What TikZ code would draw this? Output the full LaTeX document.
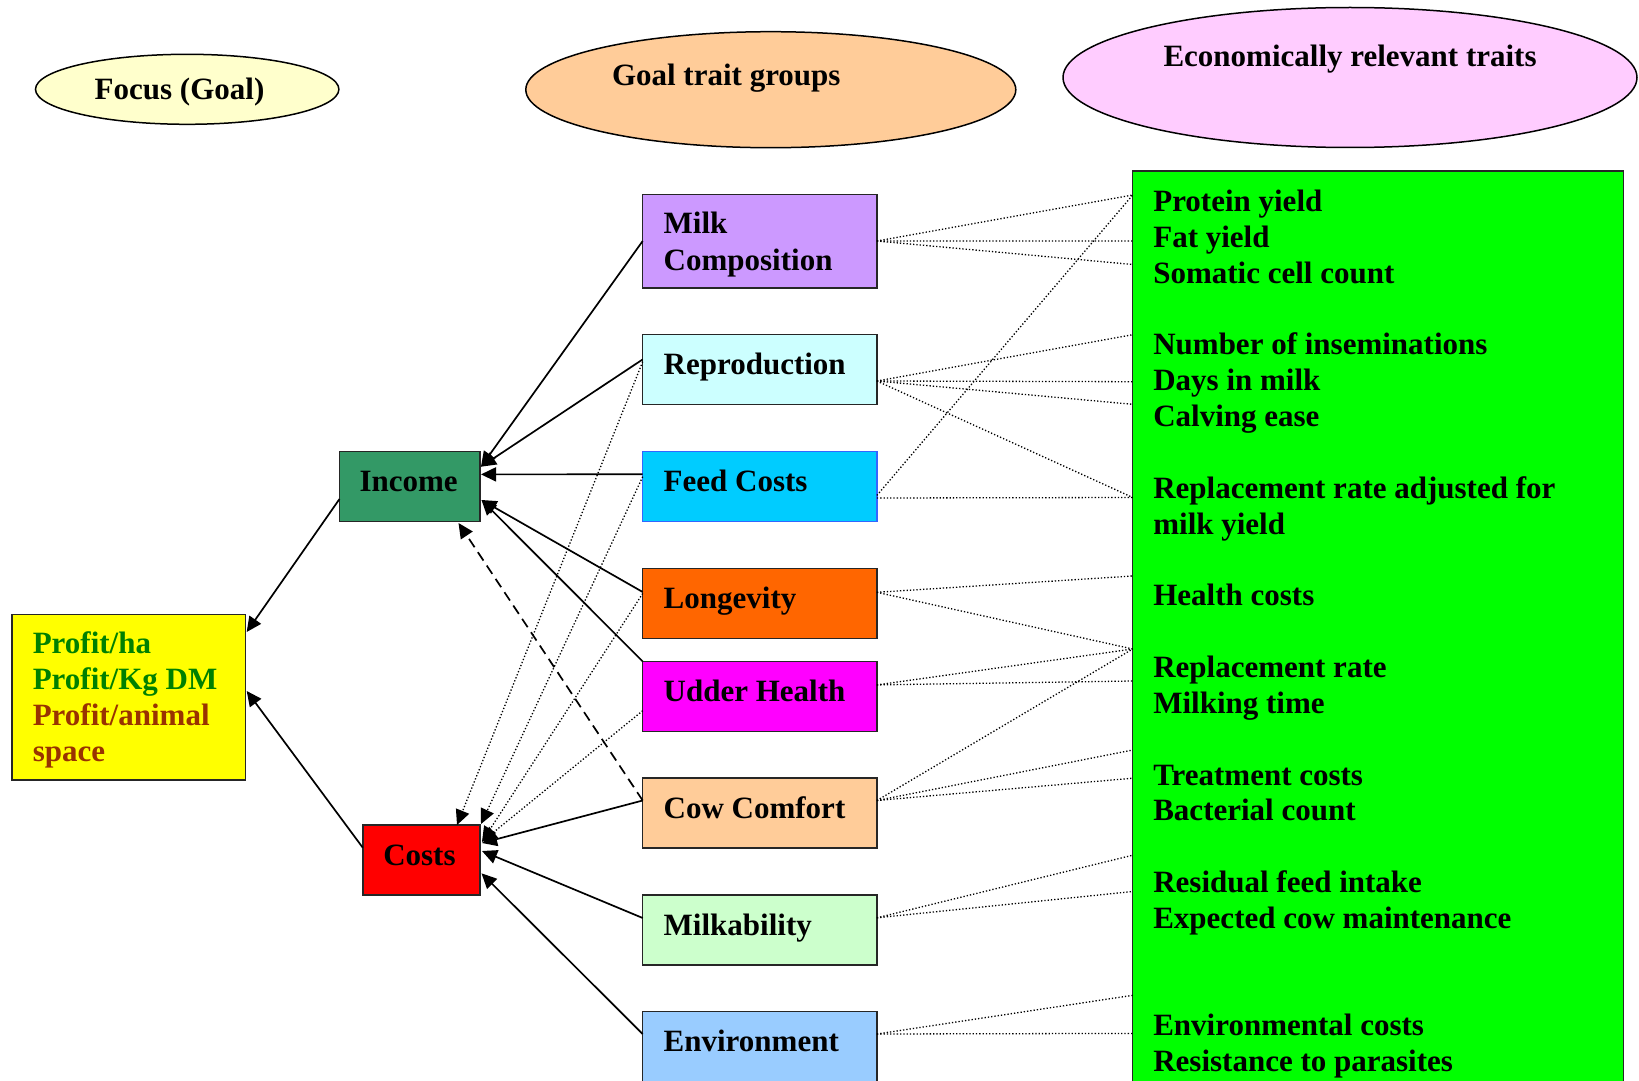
\documentclass[tikz,border=0pt]{standalone}
\usepackage{fontspec}
\setmainfont{Liberation Serif}
\usetikzlibrary{arrows.meta,calc,shapes.geometric}
\definecolor{cFocus}{HTML}{FFFFCC}
\definecolor{cGoal}{HTML}{FFCC99}
\definecolor{cEcon}{HTML}{FFCCFF}
\definecolor{cMilk}{HTML}{CC99FF}
\definecolor{cRepro}{HTML}{CCFFFF}
\definecolor{cFeed}{HTML}{00CCFF}
\definecolor{cFeedB}{HTML}{3366FF}
\definecolor{cLong}{HTML}{FF6600}
\definecolor{cUdder}{HTML}{FF00FF}
\definecolor{cCow}{HTML}{FFCC99}
\definecolor{cMilkab}{HTML}{CCFFCC}
\definecolor{cEnv}{HTML}{99CCFF}
\definecolor{cInc}{HTML}{339966}
\definecolor{cCost}{HTML}{FF0000}
\definecolor{cProf}{HTML}{FFFF00}
\definecolor{cGreen}{HTML}{00FF00}
\definecolor{tGreen}{HTML}{008000}
\definecolor{tBrown}{HTML}{993300}
\begin{document}
\begin{tikzpicture}[x=0.5pt,y=-0.5pt,
  every node/.style={inner sep=0pt,outer sep=0pt},
  box/.style={draw=black!85,line width=0.75pt,rectangle,anchor=north west},
  gbox/.style={box,minimum width=117.1pt,minimum height=35pt},
  oval/.style={draw=black,line width=0.75pt,ellipse},
  lbl/.style={anchor=base west,font=\fontsize{15.5}{17.9}\selectfont\bfseries},
  tip/.style={-{Triangle[length=7.5pt,width=7pt]}},
  solidarr/.style={line width=0.85pt,tip},
  dotline/.style={line width=0.65pt,dash pattern=on 0.65pt off 1pt},
  dotarr/.style={dotline,tip},
  dasharr/.style={line width=0.85pt,dash pattern=on 5pt off 3pt,tip}]
\useasboundingbox (0,0) rectangle (1639,1081);
\fill[white] (0,0) rectangle (1639,1081);
\clip (0,0) rectangle (1639,1081);

% header ellipses
\node[oval,fill=cFocus,minimum width=151.7pt,minimum height=35pt] (focus) at (187.2,89.3) {};
\node[oval,fill=cGoal,minimum width=245pt,minimum height=58pt] (goal) at (770.8,89.7) {};
\node[oval,fill=cEcon,minimum width=287pt,minimum height=70pt] (econ) at (1350,77.5) {};
\node[lbl] (focusT) at (94.7,100) {Focus (Goal)};
\node[lbl] (goalT) at (612,86) {Goal trait groups};
\node[lbl] (econT) at (1163.5,66.7) {Economically relevant traits};

% goal trait group boxes
\node[box,fill=cMilk,minimum width=117.1pt,minimum height=46.75pt] (mc) at (642.7,194.4) {};
\node[gbox,fill=cRepro] (rep) at (642.7,334.4) {};
\node[gbox,fill=cFeed,draw=cFeedB] (feed) at (642.7,451.4) {};
\node[gbox,fill=cLong] (lon) at (642.7,568.3) {};
\node[gbox,fill=cUdder] (udd) at (642.7,661.5) {};
\node[gbox,fill=cCow] (cow) at (642.7,778.2) {};
\node[gbox,fill=cMilkab] (milka) at (642.7,895) {};
\node[box,fill=cEnv,minimum width=117.1pt,minimum height=50pt] (env) at (642.7,1011.7) {};

\node[lbl] (mcT1) at ($(mc.north west)+(21,39.6)$) {Milk};
\node[lbl] (mcT2) at ($(mc.north west)+(21,75.8)$) {Composition};
\foreach \n/\t in {rep/Reproduction,feed/Feed Costs,lon/Longevity,udd/Udder Health,cow/Cow Comfort,milka/Milkability,env/Environment}
  \node[lbl] (\n T) at ($(\n.north west)+(21,40)$) {\t};

% focus boxes
\node[box,fill=cInc,minimum width=70.25pt,minimum height=35pt] (inc) at (339.5,451.5) {};
\node[box,fill=cCost,minimum width=58.6pt,minimum height=35pt] (cst) at (362.8,825) {};
\node[box,fill=cProf,minimum width=116.85pt,minimum height=82.75pt] (prof) at (12,614.7) {};
\node[lbl] (incT) at ($(inc.north west)+(20,40)$) {Income};
\node[lbl] (cstT) at ($(cst.north west)+(20.5,40)$) {Costs};
\node[lbl,text=tGreen] (pf1) at ($(prof.north west)+(20.8,38.6)$) {Profit/ha};
\node[lbl,text=tGreen] (pf2) at ($(prof.north west)+(20.8,74.6)$) {Profit/Kg DM};
\node[lbl,text=tBrown] (pf3) at ($(prof.north west)+(20.8,110.6)$) {Profit/animal};
\node[lbl,text=tBrown] (pf4) at ($(prof.north west)+(20.8,146.6)$) {space};

% economically relevant traits box
\node[box,fill=cGreen,minimum width=245.5pt,minimum height=475pt] (green) at (1132.7,171.2) {};
\foreach \k/\t in {0/Protein yield,1/Fat yield,2/Somatic cell count,4/Number of inseminations,5/Days in milk,6/Calving ease,8/Replacement rate adjusted for,9/milk yield,11/Health costs,13/Replacement rate,14/Milking time,16/Treatment costs,17/Bacterial count,19/Residual feed intake,20/Expected cow maintenance,23/Environmental costs,24/Resistance to parasites}
  \node[lbl] (gt\k) at ($(green.north west)+(20.6,{40.2+35.85*\k})$) {\t};

% anchor points on the green box
\foreach \i/\d in {1/23.8,2/69.8,3/93.3,4/163.5,5/210.5,6/233.1,7/326.3,8/404.8,9/477.8,10/509.8,11/578.8,12/607,13/684,14/720.3,15/824.1,16/862.2}
  \coordinate (g\i) at ($(green.north west)+(0,\d)$);

% dotted links to the traits
\draw[dotline] ($(mc.north east)+(0,46.6)$) -- (g1);
\draw[dotline] ($(mc.north east)+(0,46.6)$) -- (g2);
\draw[dotline] ($(mc.north east)+(0,46.6)$) -- (g3);
\draw[dotline] ($(rep.north east)+(0,46.6)$) -- (g4);
\draw[dotline] ($(rep.north east)+(0,46.6)$) -- (g5);
\draw[dotline] ($(rep.north east)+(0,46.6)$) -- (g6);
\draw[dotline] ($(rep.north east)+(0,46.6)$) -- (g7);
\draw[dotline] ($(feed.north east)+(0,46.6)$) -- (g7);
\draw[dotline] ($(feed.north east)+(0,44)$) -- (g1);
\draw[dotline] ($(lon.north east)+(0,24)$) -- (g8);
\draw[dotline] ($(lon.north east)+(0,24)$) -- (g9);
\draw[dotline] ($(udd.north east)+(0,23.4)$) -- (g9);
\draw[dotline] ($(udd.north east)+(0,23.4)$) -- (g10);
\draw[dotline] ($(cow.north east)+(0,22.3)$) -- (g9);
\draw[dotline] ($(cow.north east)+(0,22.3)$) -- (g11);
\draw[dotline] ($(cow.north east)+(0,22.3)$) -- (g12);
\draw[dotline] ($(milka.north east)+(0,22.8)$) -- (g13);
\draw[dotline] ($(milka.north east)+(0,22.8)$) -- (g14);
\draw[dotline] ($(env.north east)+(0,22.3)$) -- (g15);
\draw[dotline] ($(env.north east)+(0,22.3)$) -- (g16);

% solid arrows to Income
\draw[solidarr] ($(mc.north west)+(0,46.6)$) -- ($(inc.north east)+(1,15.2)$);
\draw[solidarr] ($(rep.north west)+(0,25)$) -- ($(inc.north east)+(1,15.2)$);
\draw[solidarr] ($(feed.north west)+(0,22.9)$) -- ($(inc.north east)+(1,22.9)$);
\draw[solidarr] ($(lon.north west)+(0,23.7)$) -- ($(inc.north east)+(1.5,48.5)$);
\draw[solidarr] (udd.north west) -- ($(inc.north east)+(1.5,48.5)$);

% dotted arrows to Costs
\draw[dotarr] ($(rep.north west)+(0,27.3)$) -- ($(cst.north west)+(94.2,0)$);
\draw[dotarr] ($(feed.north west)+(0,25.3)$) -- ($(cst.north east)+(1,-1)$);
\draw[dotarr] ($(lon.north west)+(0,25.2)$) -- ($(cst.north east)+(2,16.7)$);
\draw[dotarr] ($(udd.north west)+(0,49.2)$) -- ($(cst.north east)+(2,16.7)$);

% solid arrows to Costs
\draw[solidarr] ($(cow.north west)+(0,22.3)$) -- ($(cst.north east)+(2,18)$);
\draw[solidarr] ($(milka.north west)+(0,23)$) -- ($(cst.north east)+(2,26)$);
\draw[solidarr] ($(env.north west)+(0,22.3)$) -- ($(cst.north east)+(1.5,48.3)$);

% dashed arrow Cow Comfort -> Income
\draw[dasharr] ($(cow.north west)+(0,22.3)$) -- ($(inc.south west)+(119,1.5)$);

% Income / Costs -> Profit
\draw[solidarr] ($(inc.north west)+(0,47.5)$) -- ($(prof.north east)+(1,17.3)$);
\draw[solidarr] ($(cst.north west)+(0,22.7)$) -- ($(prof.north east)+(1,76.3)$);
\end{tikzpicture}
\end{document}
